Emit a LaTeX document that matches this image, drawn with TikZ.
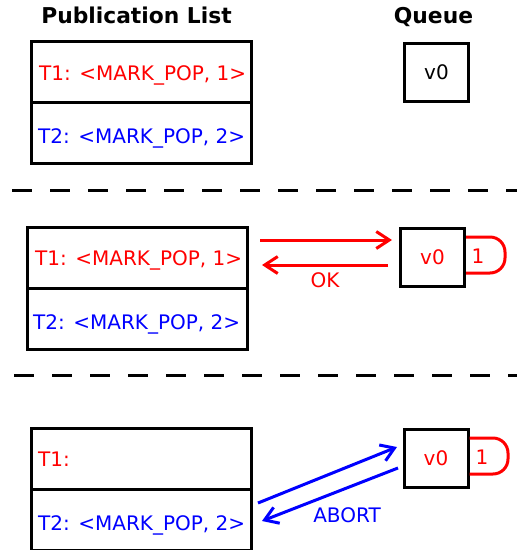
\documentclass[tikz,border=0pt]{standalone}
\usepackage{fontspec}
\setmainfont{DejaVu Sans}
\usetikzlibrary{arrows.meta}
\definecolor{myred}{RGB}{255,0,0}
\definecolor{myblue}{RGB}{0,0,255}
\tikzset{
  listrow/.style={draw=black, line width=3pt, minimum width=220pt, minimum height=61pt, inner sep=0pt},
  qbox/.style={draw=black, line width=3pt, minimum width=64pt, minimum height=58pt, inner sep=0pt, font=\fontsize{20}{24}\selectfont},
  rowtext/.style={anchor=base west, inner sep=0pt, font=\fontsize{20}{24}\selectfont},
  title/.style={anchor=base, inner sep=0pt, font=\fontsize{21.8}{26}\selectfont\bfseries},
  sep/.style={line width=3pt, dash pattern=on 20pt off 18pt},
  tab/.style={draw=myred, line width=3pt, rounded corners=15pt},
  arr/.style={line width=3pt, -{Straight Barb[length=13pt,width=17pt]}},
  lab/.style={inner sep=0pt, font=\fontsize{20}{24}\selectfont},
}
\begin{document}
\begin{tikzpicture}[x=1pt,y=-1pt]
\useasboundingbox (0,0) rectangle (517,550);
\clip (0,0) rectangle (517,550);
% titles
\node[title] (t1) at (136.5,23) {Publication List};
\node[title] (t2) at (433.5,23) {Queue};
% panel 1
\node[listrow] (a1) at (141,72) {};
\node[listrow] (a2) at (141,133) {};
\node[rowtext, text=myred] (a1t) at (39,80) {T1: <MARK\_POP, 1>};
\node[rowtext, text=myblue] (a2t) at (38,143) {T2: <MARK\_POP, 2>};
\node[qbox] (q1) at (436.5,72) {v0};
% separator 1
\coordinate (s1a) at (12,190);
\coordinate (s1b) at (517,190);
\draw[sep] (s1a) -- (s1b);
% panel 2
\node[listrow] (b1) at (137,257.5) {};
\node[listrow] (b2) at (137,318.5) {};
\node[rowtext, text=myred] (b1t) at (35,265.5) {T1: <MARK\_POP, 1>};
\node[rowtext, text=myblue] (b2t) at (33,329) {T2: <MARK\_POP, 2>};
\node[qbox, text=myred] (q2) at (432.5,257) {v0};
\draw[tab] (q2.east |- 0,237) -- (505,237) -- (505,273) -- (q2.east |- 0,273);
\node[lab, text=myred] (q2n) at (478,256) {1};
\coordinate (b_o1) at (260,240);
\coordinate (b_o2) at (392,240);
\coordinate (b_i1) at (388,265);
\coordinate (b_i2) at (262,265);
\draw[arr, myred] (b_o1) -- (b_o2);
\draw[arr, myred] (b_i1) -- (b_i2);
\node[lab, text=myred] (ok) at (325,280) {OK};
% separator 2
\coordinate (s2a) at (14,375);
\coordinate (s2b) at (517,375);
\draw[sep] (s2a) -- (s2b);
% panel 3
\node[listrow] (c1) at (141,458.5) {};
\node[listrow] (c2) at (141,519.5) {};
\node[rowtext, text=myred] (c1t) at (38,466) {T1:};
\node[rowtext, text=myblue] (c2t) at (38,530) {T2: <MARK\_POP, 2>};
\node[qbox, text=myred] (q3) at (436,458) {v0};
\draw[tab] (q3.east |- 0,438) -- (508,438) -- (508,474) -- (q3.east |- 0,474);
\node[lab, text=myred] (q3n) at (482,457) {1};
\coordinate (c_o1) at (258,503);
\coordinate (c_o2) at (397,447);
\coordinate (c_i1) at (398,468);
\coordinate (c_i2) at (262,521);
\draw[arr, myblue] (c_o1) -- (c_o2);
\draw[arr, myblue] (c_i1) -- (c_i2);
\node[lab, text=myblue] (ab) at (347,515) {ABORT};
\end{tikzpicture}
\end{document}
